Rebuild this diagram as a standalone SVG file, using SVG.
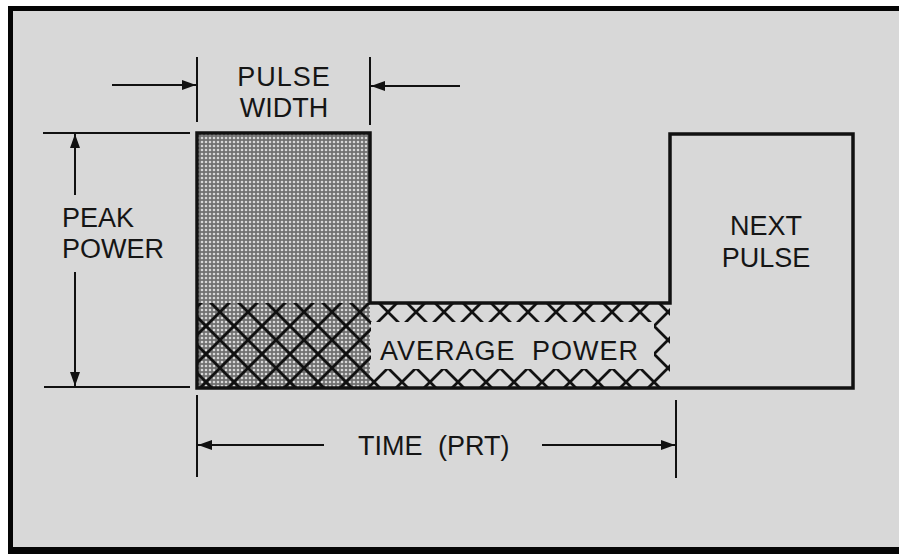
<svg xmlns="http://www.w3.org/2000/svg" width="899" height="554" viewBox="0 0 899 554">
<style>
.lbl{font-family:"Liberation Sans",Arial,sans-serif;font-size:27px;fill:#151515}
.dim{stroke:#111;stroke-width:2;fill:none}
.wave{stroke:#111;stroke-width:3.5;fill:none;stroke-linejoin:miter}
</style>
<defs>
<pattern id="stipple" patternUnits="userSpaceOnUse" x="0" y="0" width="4" height="4">
<rect width="4" height="4" fill="#707070"/>
<circle cx="2" cy="2" r="1.3" fill="#d6d6d6"/>
</pattern>
<pattern id="hatch" patternUnits="userSpaceOnUse" x="192" y="284" width="28" height="28">
<path d="M-1,-1 L29,29 M29,-1 L-1,29" stroke="#111" stroke-width="2.8" fill="none"/>
</pattern>
<clipPath id="lowband"><rect x="197" y="303" width="473" height="85"/></clipPath>
<marker id="ah" viewBox="0 0 14 10" refX="14" refY="5" markerWidth="14" markerHeight="10" markerUnits="userSpaceOnUse" orient="auto">
<path d="M0,0 L14,5 L0,10 Z" fill="#111"/>
</marker>
</defs>
<rect width="899" height="554" fill="#ffffff"/>
<rect x="13" y="11" width="886" height="536" fill="#d8d8d8"/>
<g id="frame" fill="#050505">
<rect x="8" y="6" width="891" height="5"/>
<rect x="8" y="6" width="5" height="548"/>
<rect x="8" y="547" width="891" height="7"/>
</g>
<g id="pulse">
<rect x="197" y="133" width="173" height="255" fill="url(#stipple)"/>
</g>
<g id="average-power">
<rect x="197" y="303" width="473" height="85" fill="url(#hatch)" clip-path="url(#lowband)"/>
<rect x="371" y="322" width="283" height="47" fill="#d8d8d8"/>
<text class="lbl" x="380" y="360" letter-spacing="1" word-spacing="8">AVERAGE POWER</text>
</g>
<g id="waveform">
<path class="wave" d="M197,388 V133 H370 V303 H670 V134 H853 V388 Z"/>
</g>
<g id="next-pulse">
<text class="lbl" x="766" y="235" text-anchor="middle">NEXT</text>
<text class="lbl" x="766" y="267" text-anchor="middle">PULSE</text>
</g>
<g id="pulse-width">
<text class="lbl" x="284" y="86" text-anchor="middle" letter-spacing="1">PULSE</text>
<text class="lbl" x="284" y="117" text-anchor="middle">WIDTH</text>
</g>
<g id="peak-power">
<text class="lbl" x="62" y="227">PEAK</text>
<text class="lbl" x="62" y="258">POWER</text>
</g>
<g id="time-prt">
<text class="lbl" x="358" y="455" word-spacing="8">TIME (PRT)</text>
</g>
<g id="connectors" class="dim">
<line x1="197" y1="57" x2="197" y2="122"/>
<line x1="370" y1="57" x2="370" y2="125"/>
<line x1="112" y1="85" x2="196" y2="85" marker-end="url(#ah)"/>
<line x1="460" y1="86" x2="371" y2="86" marker-end="url(#ah)"/>
<line x1="43" y1="133" x2="190" y2="133"/>
<line x1="44" y1="387" x2="190" y2="387"/>
<line x1="75" y1="195" x2="75" y2="134" marker-end="url(#ah)"/>
<line x1="75" y1="272" x2="75" y2="386" marker-end="url(#ah)"/>
<line x1="197" y1="395" x2="197" y2="477"/>
<line x1="676" y1="400" x2="676" y2="478"/>
<line x1="324" y1="445" x2="198" y2="445" marker-end="url(#ah)"/>
<line x1="542" y1="445" x2="675" y2="445" marker-end="url(#ah)"/>
</g>
</svg>
